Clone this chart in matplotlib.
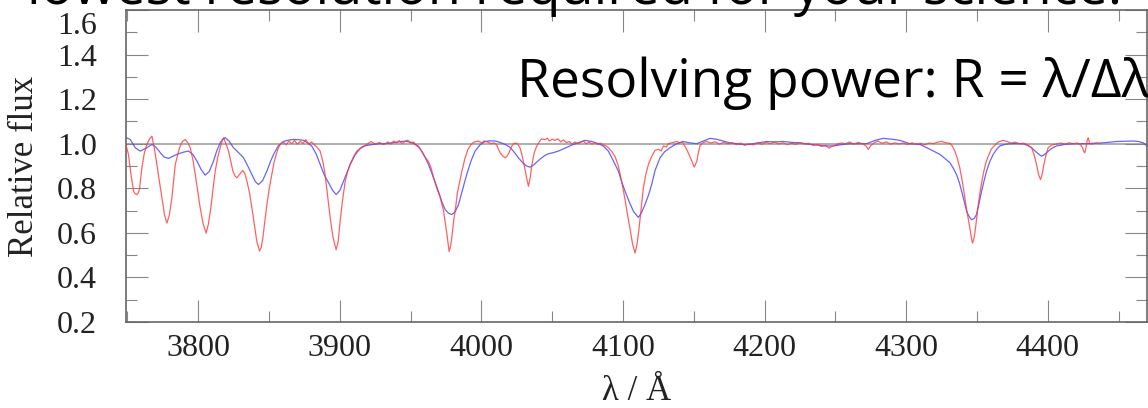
import matplotlib
matplotlib.use("Agg")
import matplotlib.pyplot as plt
from matplotlib.ticker import MultipleLocator
from matplotlib.transforms import ScaledTranslation

# high resolution spectrum (red)
red_wave = [3749.2, 3750.8, 3752.5, 3754.4, 3755.5, 3756.7, 3757.8, 3758.6, 3760.2, 3762.0,
            3763.8, 3765.5, 3767.3, 3769.0, 3770.8, 3772.6, 3774.4, 3776.2, 3777.9, 3779.6,
            3781.4, 3783.8, 3786.8, 3788.8, 3790.8, 3792.6, 3794.4, 3796.2, 3797.9, 3799.6,
            3801.4, 3803.5, 3805.6, 3807.2, 3808.9, 3810.5, 3812.0, 3813.8, 3815.5, 3817.0,
            3817.9, 3819.6, 3821.4, 3823.0, 3824.5, 3826.0, 3827.3, 3829.5, 3831.5, 3833.0,
            3834.4, 3836.2, 3837.9, 3839.6, 3841.4, 3843.3, 3844.5, 3845.6, 3847.0, 3848.5,
            3850.2, 3852.0, 3853.5, 3855.1, 3856.5, 3857.9, 3860.0, 3862.0, 3864.0, 3866.0,
            3868.0, 3870.0, 3872.0, 3874.0, 3876.0, 3878.0, 3880.0, 3882.0, 3883.8, 3886.1,
            3888.0, 3889.6, 3891.5, 3893.2, 3895.2, 3897.4, 3898.8, 3900.2, 3902.0, 3903.8,
            3905.5, 3907.3, 3909.6, 3912.0, 3915.5, 3919.1, 3922.0, 3925.0, 3928.0, 3931.0,
            3934.0, 3936.0, 3938.0, 3940.0, 3942.0, 3944.0, 3946.0, 3948.0, 3950.0, 3952.0,
            3953.5, 3955.5, 3957.5, 3959.1, 3960.8, 3962.6, 3964.5, 3966.1, 3968.5, 3970.8,
            3973.2, 3975.5, 3977.2, 3978.2, 3979.1, 3980.5, 3981.9, 3983.0, 3984.2, 3986.3,
            3988.5, 3990.5, 3992.7, 3995.0, 3997.9, 4000.0, 4002.0, 4004.9, 4007.0, 4009.0,
            4010.8, 4012.0, 4013.2, 4015.0, 4016.7, 4018.2, 4019.5, 4021.0, 4022.6, 4024.5,
            4026.0, 4027.3, 4028.8, 4030.3, 4031.8, 4033.2, 4034.4, 4035.5, 4037.3, 4039.1,
            4041.0, 4042.5, 4044.9, 4046.5, 4048.0, 4050.0, 4052.0, 4054.0, 4056.0, 4058.0,
            4060.0, 4062.0, 4064.0, 4066.0, 4068.0, 4070.0, 4072.0, 4074.0, 4076.0, 4078.0,
            4080.0, 4082.0, 4084.0, 4086.0, 4088.0, 4090.0, 4092.0, 4094.5, 4096.7, 4099.0,
            4101.4, 4103.2, 4104.9, 4106.7, 4108.5, 4109.9, 4111.3, 4112.8, 4114.3, 4116.0,
            4117.9, 4120.0, 4122.6, 4125.0, 4127.0, 4128.5, 4130.5, 4132.0, 4135.0, 4137.9,
            4140.0, 4142.0, 4143.5, 4144.9, 4146.7, 4148.5, 4150.3, 4152.0, 4153.2, 4154.3,
            4156.5, 4159.0, 4162.0, 4165.0, 4168.0, 4171.0, 4174.0, 4177.0, 4180.0, 4183.0,
            4186.0, 4189.0, 4192.0, 4195.0, 4198.0, 4201.0, 4204.0, 4207.0, 4210.0, 4213.0,
            4216.0, 4219.0, 4222.0, 4225.0, 4228.0, 4231.0, 4234.0, 4237.0, 4240.0, 4243.0,
            4245.5, 4248.0, 4251.0, 4254.0, 4257.0, 4260.0, 4263.0, 4266.0, 4269.0, 4271.5,
            4273.2, 4275.0, 4277.5, 4280.0, 4283.0, 4286.0, 4289.0, 4292.0, 4295.0, 4298.0,
            4301.0, 4304.0, 4307.0, 4310.0, 4313.0, 4316.0, 4319.0, 4322.0, 4325.0, 4328.0,
            4330.8, 4332.5, 4334.3, 4336.0, 4337.8, 4339.6, 4341.4, 4343.0, 4344.5, 4345.8,
            4346.8, 4348.0, 4349.2, 4350.3, 4351.5, 4352.8, 4354.3, 4356.0, 4357.9, 4360.0,
            4362.6, 4365.0, 4368.5, 4371.0, 4374.0, 4377.0, 4380.0, 4383.0, 4385.5, 4388.5,
            4390.3, 4392.0, 4393.5, 4394.8, 4396.0, 4397.2, 4398.7, 4400.2, 4403.0, 4406.0,
            4409.0, 4412.0, 4415.0, 4418.0, 4421.0, 4423.0, 4424.5, 4425.3, 4426.1, 4427.0,
            4427.8, 4428.5, 4429.5, 4431.0, 4434.0, 4436.7]
red_flux = [0.990, 0.950, 0.862, 0.787, 0.775, 0.772, 0.780, 0.800, 0.892, 0.960,
            0.997, 1.020, 1.034, 0.980, 0.907, 0.830, 0.757, 0.680, 0.644, 0.680,
            0.757, 0.907, 0.982, 1.010, 1.019, 1.005, 0.982, 0.930, 0.862, 0.790,
            0.712, 0.640, 0.599, 0.640, 0.712, 0.800, 0.877, 0.940, 0.982, 1.015,
            1.027, 1.000, 0.967, 0.920, 0.877, 0.855, 0.847, 0.865, 0.880, 0.865,
            0.832, 0.780, 0.712, 0.640, 0.561, 0.519, 0.535, 0.576, 0.650, 0.727,
            0.800, 0.862, 0.915, 0.952, 0.980, 0.997, 1.008, 0.995, 1.012, 1.000,
            1.015, 0.998, 1.010, 1.002, 1.018, 0.998, 1.008, 0.995, 0.985, 0.967,
            0.920, 0.862, 0.760, 0.667, 0.580, 0.524, 0.560, 0.652, 0.750, 0.832,
            0.875, 0.907, 0.940, 0.967, 0.985, 0.997, 1.010, 0.998, 1.006, 0.996,
            1.008, 0.998, 1.012, 1.003, 1.014, 1.000, 1.010, 1.016, 1.002, 1.008,
            0.995, 0.985, 0.970, 0.950, 0.935, 0.920, 0.890, 0.850, 0.800, 0.760,
            0.700, 0.600, 0.516, 0.540, 0.580, 0.660, 0.720, 0.780, 0.817, 0.880,
            0.937, 0.975, 0.997, 1.008, 1.012, 1.004, 1.012, 1.006, 1.000, 1.004,
            0.995, 0.975, 0.960, 0.945, 0.937, 0.945, 0.960, 0.985, 1.000, 1.003,
            0.995, 0.980, 0.945, 0.900, 0.850, 0.809, 0.845, 0.900, 0.960, 0.990,
            1.010, 1.022, 1.018, 1.025, 1.012, 1.020, 1.015, 1.022, 1.008, 1.017,
            1.005, 1.010, 0.998, 1.008, 1.000, 1.006, 1.012, 1.000, 1.008, 0.998,
            1.005, 0.997, 1.003, 0.995, 0.990, 0.980, 0.965, 0.940, 0.900, 0.830,
            0.750, 0.680, 0.620, 0.550, 0.509, 0.550, 0.620, 0.710, 0.800, 0.860,
            0.907, 0.940, 0.970, 0.975, 0.968, 0.990, 0.985, 1.000, 1.005, 1.010,
            1.003, 1.008, 0.990, 0.975, 0.950, 0.922, 0.895, 0.920, 0.960, 0.990,
            1.005, 1.010, 1.003, 1.009, 0.998, 1.006, 1.000, 1.004, 0.996, 1.003,
            0.993, 1.000, 0.995, 1.004, 0.998, 1.006, 1.000, 1.008, 0.999, 1.004,
            0.996, 1.002, 0.997, 1.005, 0.998, 1.002, 0.993, 0.997, 0.988, 0.993,
            0.980, 0.990, 0.997, 1.003, 1.000, 1.008, 0.998, 1.006, 1.000, 0.990,
            0.975, 0.992, 1.005, 1.012, 1.002, 1.008, 0.998, 1.004, 0.999, 1.003,
            0.996, 1.004, 0.997, 1.002, 0.995, 1.003, 1.000, 1.007, 1.010, 1.004,
            1.002, 0.990, 0.967, 0.935, 0.892, 0.830, 0.757, 0.690, 0.637, 0.585,
            0.554, 0.580, 0.637, 0.700, 0.757, 0.810, 0.862, 0.910, 0.944, 0.975,
            0.994, 1.008, 1.015, 1.010, 1.003, 1.007, 0.999, 1.002, 0.995, 0.982,
            0.950, 0.907, 0.860, 0.839, 0.865, 0.907, 0.950, 0.982, 0.995, 0.998,
            1.003, 0.998, 1.004, 1.000, 1.003, 0.995, 0.982, 0.965, 0.959, 0.985,
            1.015, 1.027, 1.000, 0.998, 1.003, 1.000]

# degraded / low resolution spectrum (blue)
blue_wave = [3749.2, 3752.0, 3755.5, 3759.1, 3763.8, 3767.3, 3770.0, 3773.2, 3776.0, 3779.1,
             3782.5, 3786.1, 3789.5, 3793.2, 3796.5, 3799.1, 3802.0, 3804.9, 3807.8, 3810.8,
             3813.2, 3815.5, 3817.3, 3819.0, 3821.8, 3824.9, 3828.5, 3832.0, 3835.0, 3837.9,
             3840.3, 3842.6, 3845.5, 3848.5, 3851.0, 3853.2, 3856.5, 3860.2, 3863.5, 3867.3,
             3871.0, 3874.4, 3877.5, 3880.2, 3883.2, 3886.1, 3889.0, 3892.0, 3895.0, 3897.4,
             3900.0, 3902.6, 3905.0, 3907.3, 3910.8, 3914.4, 3918.5, 3923.8, 3928.0, 3932.0,
             3939.0, 3946.1, 3951.0, 3955.5, 3959.0, 3962.6, 3966.0, 3969.6, 3972.0, 3974.4,
             3976.8, 3979.1, 3981.5, 3983.8, 3986.7, 3989.6, 3992.5, 3995.5, 3999.0, 4002.6,
             4006.0, 4010.0, 4013.5, 4016.7, 4020.0, 4023.0, 4026.1, 4029.0, 4031.8, 4034.4,
             4037.0, 4039.8, 4042.6, 4045.0, 4047.3, 4050.8, 4054.3, 4059.0, 4063.8, 4068.5,
             4073.2, 4078.0, 4082.6, 4086.0, 4089.6, 4093.0, 4096.7, 4099.0, 4101.4, 4104.3,
             4107.3, 4110.8, 4113.0, 4115.5, 4118.0, 4120.2, 4122.6, 4126.1, 4129.5, 4133.2,
             4137.8, 4142.6, 4147.0, 4152.0, 4156.7, 4161.4, 4166.0, 4170.8, 4175.5, 4180.2,
             4185.0, 4189.6, 4195.5, 4201.4, 4207.0, 4213.2, 4219.0, 4224.9, 4231.0, 4236.7,
             4242.5, 4248.5, 4254.5, 4260.2, 4266.0, 4272.0, 4278.0, 4283.8, 4290.0, 4295.5,
             4302.6, 4309.6, 4316.7, 4323.8, 4330.8, 4333.2, 4335.5, 4337.5, 4339.1, 4341.0,
             4342.6, 4344.5, 4346.1, 4348.0, 4349.6, 4351.5, 4353.2, 4355.0, 4356.7, 4359.0,
             4361.4, 4363.8, 4366.1, 4369.5, 4373.2, 4378.0, 4382.6, 4385.5, 4388.5, 4391.0,
             4393.2, 4395.5, 4397.3, 4399.1, 4402.5, 4406.1, 4412.0, 4417.9, 4422.5, 4427.3,
             4432.0, 4436.7, 4442.5, 4448.5, 4454.5, 4460.2, 4464.0, 4467.3, 4469.2, 4470.6]
blue_flux = [1.027, 1.019, 0.982, 0.967, 0.982, 0.997, 0.985, 0.960, 0.940, 0.934,
             0.945, 0.955, 0.962, 0.967, 0.950, 0.922, 0.885, 0.859, 0.875, 0.922,
             0.970, 1.004, 1.020, 1.027, 1.012, 0.982, 0.960, 0.937, 0.900, 0.862,
             0.830, 0.817, 0.835, 0.877, 0.920, 0.952, 0.990, 1.010, 1.016, 1.019,
             1.018, 1.015, 1.003, 0.989, 0.955, 0.907, 0.860, 0.825, 0.790, 0.772,
             0.790, 0.832, 0.872, 0.907, 0.950, 0.979, 0.992, 0.997, 1.000, 1.000,
             1.006, 1.012, 1.005, 0.989, 0.955, 0.907, 0.850, 0.787, 0.740, 0.704,
             0.688, 0.682, 0.695, 0.727, 0.795, 0.862, 0.920, 0.967, 0.995, 1.010,
             1.013, 1.012, 1.005, 0.997, 0.985, 0.963, 0.937, 0.915, 0.900, 0.895,
             0.905, 0.922, 0.937, 0.948, 0.955, 0.960, 0.967, 0.980, 0.994, 1.005,
             1.015, 1.010, 1.000, 0.990, 0.967, 0.925, 0.877, 0.830, 0.787, 0.740,
             0.697, 0.669, 0.690, 0.727, 0.770, 0.817, 0.880, 0.937, 0.965, 0.982,
             1.000, 1.010, 1.004, 1.000, 1.012, 1.024, 1.020, 1.012, 1.004, 1.000,
             0.996, 0.997, 1.004, 1.010, 1.008, 1.010, 1.006, 1.004, 0.998, 0.994,
             0.990, 0.990, 0.996, 1.000, 1.000, 1.000, 1.015, 1.024, 1.020, 1.015,
             1.000, 0.997, 0.975, 0.952, 0.915, 0.890, 0.862, 0.825, 0.787, 0.740,
             0.697, 0.672, 0.659, 0.665, 0.682, 0.735, 0.787, 0.835, 0.877, 0.920,
             0.952, 0.975, 0.990, 0.997, 1.000, 1.001, 1.000, 0.993, 0.982, 0.967,
             0.955, 0.944, 0.950, 0.960, 0.978, 0.990, 0.997, 1.000, 1.000, 1.000,
             1.002, 1.003, 1.006, 1.010, 1.011, 1.012, 1.010, 1.004, 0.995, 0.982]

x_ticks = [3800, 3900, 4000, 4100, 4200, 4300, 4400]
y_ticks = [0.2, 0.4, 0.6, 0.8, 1.0, 1.2, 1.4, 1.6]

W, H = 1148, 408
fig = plt.figure(figsize=(W / 100, H / 100), dpi=100)
ax = fig.add_axes([126 / W, 86 / H, 1021 / W, 312 / H])

ax.axhline(1.0, color="#999999", lw=1.1, zorder=1)
ax.plot(blue_wave, blue_flux, color="#4a4aff", lw=0.9, alpha=0.85, zorder=2)
ax.plot(red_wave, red_flux, color="#ff3a3a", lw=0.9, alpha=0.8, zorder=3)

ax.set_xlim(3749, 4470)
ax.set_ylim(0.2, 1.6)
ax.set_xticks(x_ticks)
ax.set_xticklabels([str(v) for v in x_ticks])
ax.set_yticks(y_ticks)
ax.set_yticklabels(["%.1f" % v for v in y_ticks])
ax.xaxis.set_minor_locator(MultipleLocator(50))
ax.yaxis.set_minor_locator(MultipleLocator(0.1))

ax.tick_params(which="both", direction="in", top=True, right=True,
               color="#888888", width=0.8)
ax.tick_params(which="major", length=15.8)
ax.tick_params(which="minor", length=7.9)
ax.tick_params(axis="x", which="major", pad=9)
ax.tick_params(axis="y", which="major", pad=21)
for lab in ax.get_xticklabels() + ax.get_yticklabels():
    lab.set_fontfamily("Liberation Serif")
    lab.set_fontsize(23)
    lab.set_color("#222222")
# the top label sits a bit lower in the original
top_lab = ax.get_yticklabels()[-1]
top_lab.set_transform(top_lab.get_transform() +
                      ScaledTranslation(0, -0.13, fig.dpi_scale_trans))

for sp in ax.spines.values():
    sp.set_color("#666666")
    sp.set_linewidth(1.2)

fig.text(25 / W, 1 - 166 / H, "Relative flux", rotation=90, ha="center", va="center",
         fontsize=25, family="Liberation Serif", color="#222222")
fig.text(637 / W, 1 - 391 / H, "λ / Å", ha="center", va="center",
         fontsize=25, family="Liberation Serif", color="#222222")

fig.text(27 / W, 1 - 4 / H, "lowest resolution required for your science.",
         ha="left", va="baseline", fontsize=39, family=["Open Sans", "DejaVu Sans"])
fig.text(517 / W, 1 - 97 / H, "Resolving power: R = λ/Δλ",
         ha="left", va="baseline", fontsize=38.3, family=["Open Sans", "DejaVu Sans"])

fig.savefig("out.png", dpi=100)
